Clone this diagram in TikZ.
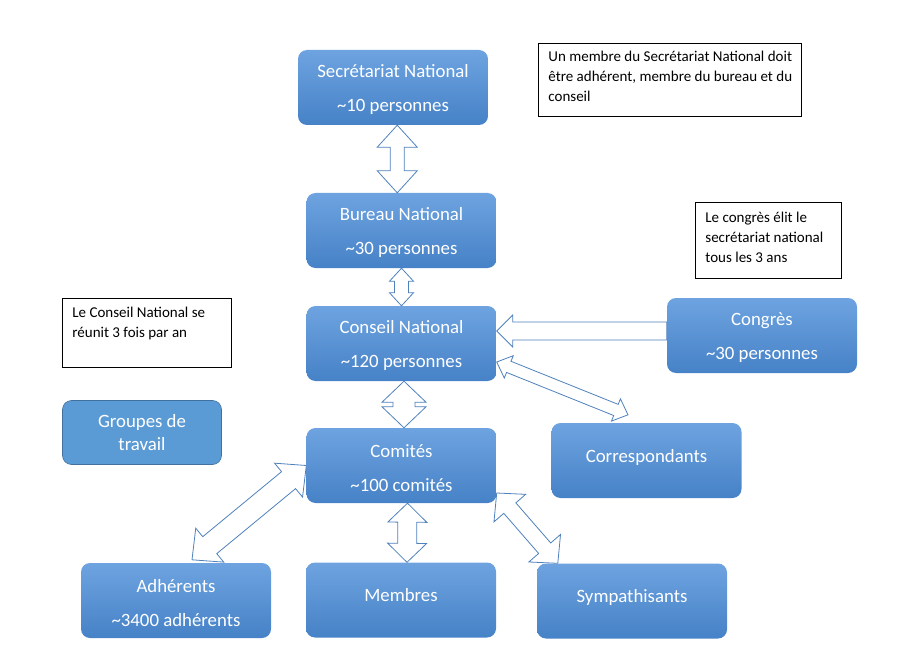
\documentclass[tikz,border=0pt]{standalone}
\usepackage{fontspec}
\setmainfont{Carlito}
\usepackage{xcolor}
\usetikzlibrary{calc}

\definecolor{boxtop}{RGB}{110,163,224}
\definecolor{boxbottom}{RGB}{70,130,199}
\definecolor{flatfill}{RGB}{91,155,213}
\definecolor{flatline}{RGB}{65,113,156}
\definecolor{arrowline}{RGB}{79,129,189}

% double block arrow: from, to, shaft half-width, head half-width, head length
\newcommand{\dblarrow}[5]{%
  \coordinate (a1) at (#1);
  \coordinate (a2) at (#2);
  \draw[blockarrow] (a1)
    -- ($(a1)!#5pt!(a2)!#4pt!90:(a2)$) -- ($(a1)!#5pt!(a2)!#3pt!90:(a2)$)
    -- ($(a2)!#5pt!(a1)!#3pt!-90:(a1)$) -- ($(a2)!#5pt!(a1)!#4pt!-90:(a1)$)
    -- (a2)
    -- ($(a2)!#5pt!(a1)!#4pt!90:(a1)$) -- ($(a2)!#5pt!(a1)!#3pt!90:(a1)$)
    -- ($(a1)!#5pt!(a2)!#3pt!-90:(a2)$) -- ($(a1)!#5pt!(a2)!#4pt!-90:(a2)$)
    -- cycle;}
% single block arrow: tip, tail, shaft half-width, head half-width, head length
\newcommand{\onearrow}[5]{%
  \coordinate (a1) at (#1);
  \coordinate (a2) at (#2);
  \draw[blockarrow] (a1)
    -- ($(a1)!#5pt!(a2)!#4pt!90:(a2)$) -- ($(a1)!#5pt!(a2)!#3pt!90:(a2)$)
    -- ($(a2)!#3pt!-90:(a1)$) -- ($(a2)!#3pt!90:(a1)$)
    -- ($(a1)!#5pt!(a2)!#3pt!-90:(a2)$) -- ($(a1)!#5pt!(a2)!#4pt!-90:(a2)$)
    -- cycle;}
\newcommand{\notetext}[3]{\parbox[c][#2][t]{#1}{\begin{tabular}[t]{@{}l@{}}#3\end{tabular}}}
\newcommand{\topstrut}{\rule{0pt}{17.5pt}}

\begin{document}
\begin{tikzpicture}[x=1pt, y=-1pt,
    orgbox/.style={rectangle, rounded corners=9pt, minimum width=190pt, minimum height=75pt, top color=boxtop, bottom color=boxbottom, text=white, align=center, inner sep=0pt, font=\fontsize{18.8}{22}\selectfont},
    single/.style={text depth=10pt},
    flatbox/.style={rectangle, rounded corners=9pt, minimum width=159pt, minimum height=64pt, fill=flatfill, draw=flatline, line width=0.6pt, text=white, align=center, inner sep=0pt, font=\fontsize{18.8}{22}\selectfont},
    note/.style={rectangle, draw=black, line width=0.8pt, fill=white, anchor=north west, inner xsep=10pt, font=\fontsize{15}{20}\selectfont},
    blockarrow/.style={draw=arrowline, fill=white, line width=0.8pt, line join=miter}]
    \useasboundingbox (0,0) rectangle (903,658);

    % National level
    \node[orgbox] (sec) at (393,87.5) {\topstrut Secrétariat National\\[12pt]\textasciitilde10 personnes};
    \node[orgbox] (bur) at (401.5,230.5) {\topstrut Bureau National\\[12pt]\textasciitilde30 personnes};
    \node[orgbox] (con) at (401.5,343.5) {\topstrut Conseil National\\[12pt]\textasciitilde120 personnes};
    \node[orgbox] (cong) at (762,335.5) {\topstrut Congrès\\[12pt]\textasciitilde30 personnes};

    % Local level
    \node[orgbox] (com) at (401.5,465.5) {\topstrut Comités\\[12pt]\textasciitilde100 comités};
    \node[orgbox, single] (corr) at (646.5,460.5) {Correspondants};
    \node[flatbox] (grp) at (142,432.5) {Groupes de\\[1pt]travail};

    % Bottom row
    \node[orgbox] (adh) at (176,600.5) {\topstrut Adhérents\\[12pt]\textasciitilde3400 adhérents};
    \node[orgbox, single] (mem) at (401,600) {Membres};
    \node[orgbox, single] (sym) at (632,601) {Sympathisants};

    % Notes
    \node[note, inner ysep=4pt] (notesec) at (538,43) {\notetext{243pt}{65pt}{Un membre du Secrétariat National doit\\être adhérent, membre du bureau et du\\conseil}};
    \node[note, inner ysep=6.5pt] (notecong) at (695,202) {\notetext{126pt}{63pt}{Le congrès élit le\\secrétariat national\\tous les 3 ans}};
    \node[note, inner ysep=5pt] (notecon) at (62,298) {\notetext{149pt}{59pt}{Le Conseil National se\\réunit 3 fois par an}};

    % Links
    \coordinate (secbur) at ($(sec.south)!.5!(bur.north)$);
    \dblarrow{secbur |- sec.south}{secbur |- bur.north}{7}{20}{22}
    \dblarrow{bur.south}{con.north}{7}{12}{13}
    \dblarrow{[xshift=2.5pt]con.south}{[xshift=2.5pt]com.north}{11}{22}{21}
    \dblarrow{[xshift=6pt]com.south}{[xshift=6pt]mem.north}{9.5}{19.5}{19}
    \onearrow{[yshift=12.5pt]con.east}{[yshift=4.5pt]cong.west}{9}{16}{16}
    \coordinate (corrtip) at ([xshift=-18.5pt,yshift=8pt]corr.north);
    \dblarrow{con.-11}{corrtip}{6}{12}{13}
    \dblarrow{com.west}{[xshift=16pt,yshift=3pt]adh.north}{11}{22}{23}
    \dblarrow{[yshift=-27.5pt]com.east}{[xshift=21pt]sym.north west}{8}{21}{20}
\end{tikzpicture}
\end{document}
